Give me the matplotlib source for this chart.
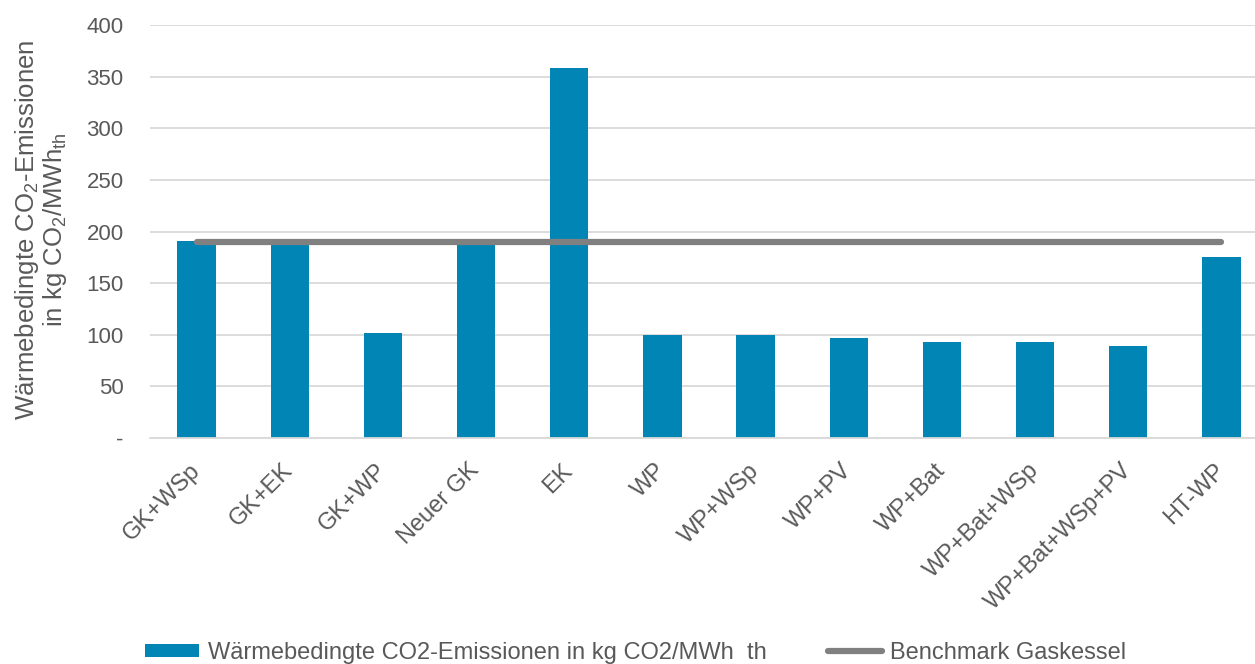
import numpy as np
import matplotlib.pyplot as plt
import matplotlib as mpl

mpl.rcParams.update(
    {
        "font.family": "Liberation Sans",
        "font.size": 16,
        "mathtext.fontset": "custom",
        "mathtext.rm": "Liberation Sans",
        "mathtext.it": "Liberation Sans",
        "text.color": "#595959",
        "axes.labelcolor": "#595959",
        "xtick.color": "#595959",
        "ytick.color": "#595959",
    }
)

BAR_COLOR = "#0085B5"
LINE_COLOR = "#808080"
GRID_COLOR = "#D9D9D9"

categories = [
    "GK+WSp", "GK+EK", "GK+WP", "Neuer GK", "EK", "WP", "WP+WSp",
    "WP+PV", "WP+Bat", "WP+Bat+WSp", "WP+Bat+WSp+PV", "HT-WP",
]
emissions = [190.5, 190, 101.5, 190, 358.5, 100, 99.5, 97, 93, 92.5, 89.5, 175.5]
benchmark = [190] * len(categories)

y_ticks = [0, 50, 100, 150, 200, 250, 300, 350, 400]
y_tick_labels = ["-", "50", "100", "150", "200", "250", "300", "350", "400"]

fig = plt.figure(figsize=(12.55, 6.64), dpi=100)
ax = fig.add_axes([150 / 1255, 1 - 438 / 664, 1118 / 1255, 413 / 664])

x = np.arange(len(categories))
bars = ax.bar(x, emissions, width=0.41, color=BAR_COLOR, zorder=2)
line, = ax.plot(x, benchmark, color=LINE_COLOR, linewidth=4.5,
                solid_capstyle="round", zorder=3)

ax.set_xlim(-0.5, len(categories) - 0.5)
ax.set_ylim(0, 400)
ax.set_yticks(y_ticks)
ax.set_yticklabels(y_tick_labels)
ax.set_xticks(x)
ax.set_xticklabels(categories, rotation=45, ha="right", va="center",
                   rotation_mode="anchor", fontsize=17)
ax.tick_params(axis="both", length=0)
ax.tick_params(axis="y", pad=19)
ax.tick_params(axis="x", pad=21)

ax.grid(axis="y", color=GRID_COLOR, linewidth=1.3, zorder=0)
ax.set_axisbelow(True)
for side in ["top", "right", "left"]:
    ax.spines[side].set_visible(False)
ax.spines["bottom"].set_color(GRID_COLOR)
ax.spines["bottom"].set_linewidth(1.3)

fig.text(41 / 1255, 1 - 230 / 664,
         "Wärmebedingte CO$_2$-Emissionen\nin kg CO$_2$/MWh$_{th}$",
         rotation=90, ha="center", va="center", fontsize=18.5,
         linespacing=1.0, multialignment="center")

fig.legend([bars, line],
           ["Wärmebedingte CO2-Emissionen in kg CO2/MWh  th", "Benchmark Gaskessel"],
           loc="center left", bbox_to_anchor=(145 / 1255, 1 - 653 / 664), ncol=2,
           frameon=False, fontsize=17, handlelength=2.3, handleheight=0.5,
           handletextpad=0.35, columnspacing=2.6, borderpad=0, borderaxespad=0)

fig.savefig("out.png", dpi=100)
